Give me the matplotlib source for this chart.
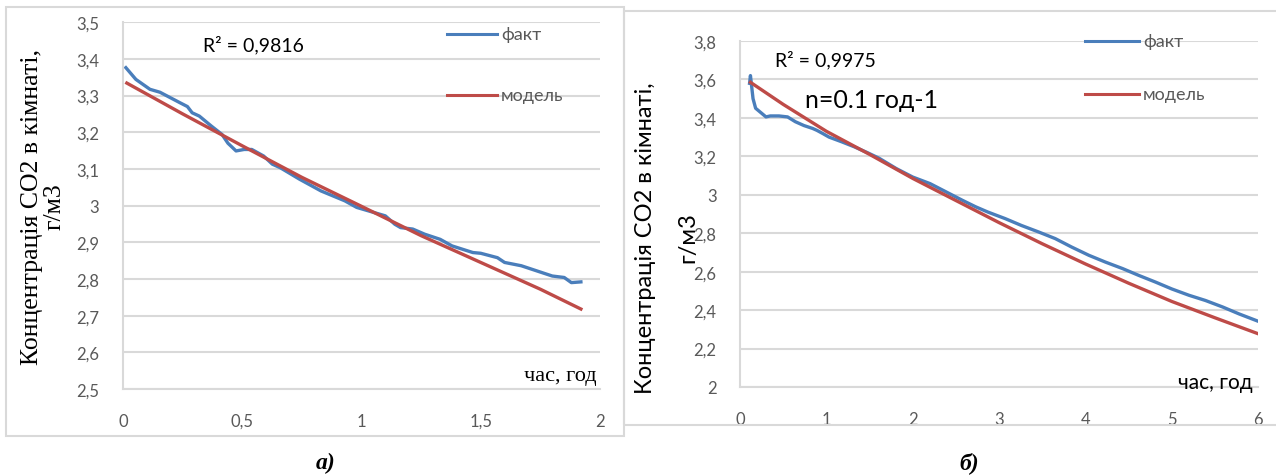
import matplotlib
matplotlib.use('Agg')
import matplotlib.pyplot as plt
from matplotlib.lines import Line2D
from matplotlib.patches import Rectangle
from matplotlib.ticker import FuncFormatter

# --- panel a) data ---
a_fact_x = [0.012, 0.054, 0.113, 0.155, 0.24, 0.27, 0.29, 0.32, 0.37, 0.415, 0.44, 0.474,
            0.508, 0.54, 0.59, 0.626, 0.66, 0.74, 0.83, 0.93, 0.98, 1.1, 1.14, 1.164,
            1.215, 1.265, 1.33, 1.38, 1.467, 1.5, 1.57, 1.6, 1.67, 1.735, 1.8, 1.85,
            1.88, 1.92]
a_fact_y = [3.376, 3.344, 3.317, 3.309, 3.28, 3.27, 3.253, 3.244, 3.217, 3.194, 3.17, 3.149,
            3.153, 3.153, 3.135, 3.113, 3.103, 3.072, 3.04, 3.013, 2.995, 2.972, 2.949, 2.94,
            2.936, 2.922, 2.908, 2.89, 2.872, 2.87, 2.858, 2.845, 2.836, 2.822, 2.808, 2.804,
            2.79, 2.792]
a_model_x = [0.016, 0.25, 0.5, 0.75, 1.0, 1.25, 1.5, 1.75, 1.92]
a_model_y = [3.334, 3.25, 3.163, 3.077, 2.998, 2.918, 2.845, 2.772, 2.718]

# --- panel б) data ---
b_fact_x = [0.11, 0.12, 0.15, 0.18, 0.26, 0.3, 0.35, 0.45, 0.55, 0.64, 0.74, 0.84, 0.89,
            0.96, 1.03, 1.18, 1.32, 1.47, 1.61, 1.81, 2.0, 2.2, 2.39, 2.58, 2.73, 2.87,
            3.07, 3.26, 3.46, 3.65, 3.84, 4.04, 4.23, 4.43, 4.62, 4.81, 5.0, 5.2, 5.39,
            5.59, 5.78, 6.0]
b_fact_y = [3.58, 3.62, 3.5, 3.45, 3.42, 3.405, 3.41, 3.41, 3.405, 3.38, 3.36, 3.345, 3.335,
            3.318, 3.30, 3.275, 3.25, 3.22, 3.19, 3.136, 3.092, 3.058, 3.014, 2.97, 2.937, 2.91,
            2.876, 2.84, 2.806, 2.772, 2.728, 2.685, 2.65, 2.616, 2.58, 2.546, 2.51, 2.477, 2.45,
            2.416, 2.38, 2.342]
b_model_x = [0.12, 0.5, 1.0, 1.5, 2.0, 2.5, 3.0, 3.5, 4.0, 4.5, 5.0, 5.5, 6.0]
b_model_y = [3.585, 3.47, 3.33, 3.21, 3.085, 2.97, 2.855, 2.745, 2.64, 2.54, 2.445, 2.36, 2.277]

BLUE = '#4a7ebb'
RED = '#be4b48'
GRID = '#d9d9d9'
TICK = '#595959'
SANS = ['Lato', 'DejaVu Sans']
SERIF = ['Liberation Serif', 'DejaVu Serif']


def comma(v, pos):
    s = ('%.1f' % v).rstrip('0').rstrip('.')
    return s.replace('.', ',')


def style_axes(ax, xlim, ylim, xticks, yticks):
    ax.set_xlim(*xlim)
    ax.set_ylim(*ylim)
    ax.set_xticks(xticks)
    ax.set_yticks(yticks)
    ax.xaxis.set_major_formatter(FuncFormatter(comma))
    ax.yaxis.set_major_formatter(FuncFormatter(comma))
    ax.grid(axis='y', color=GRID, lw=1.5)
    ax.set_axisbelow(True)
    for s in ['top', 'right']:
        ax.spines[s].set_visible(False)
    for s in ['left', 'bottom']:
        ax.spines[s].set_color(GRID)
        ax.spines[s].set_linewidth(1.5)
    ax.tick_params(length=0, pad=17, labelcolor=TICK, labelsize=12)
    for lab in ax.get_xticklabels() + ax.get_yticklabels():
        lab.set_family(SANS)


def legend_entry(ax, x0, x1, y, color, text, tx):
    ax.add_line(Line2D([x0, x1], [y, y], transform=ax.transAxes, color=color,
                       lw=2.2, clip_on=False))
    ax.text(tx, y, text, transform=ax.transAxes, ha='left', va='center',
            fontsize=13, color=TICK, family=SANS)


fig = plt.figure(figsize=(12.76, 4.77), dpi=100)

# outer frames
fig.patches.append(Rectangle((0.0047, 0.084), 0.4843, 0.899, transform=fig.transFigure,
                             fill=False, edgecolor=GRID, lw=1.5))
fig.patches.append(Rectangle((0.489, 0.107), 0.52, 0.868, transform=fig.transFigure,
                             fill=False, edgecolor=GRID, lw=1.5))

# panel a)
ax1 = fig.add_axes([0.0964, 0.1824, 0.3738, 0.769])
style_axes(ax1, (0, 2), (2.5, 3.5), [0, 0.5, 1, 1.5, 2], [2.5 + 0.1 * i for i in range(11)])
ax1.plot(a_fact_x, a_fact_y, color=BLUE, lw=2.4)
ax1.plot(a_model_x, a_model_y, color=RED, lw=2.4)
ax1.text(0.168, 0.94, 'R² = 0,9816', transform=ax1.transAxes, fontsize=14,
         family=SANS, va='center')
legend_entry(ax1, 0.679, 0.784, 0.967, BLUE, 'факт', 0.792)
legend_entry(ax1, 0.679, 0.784, 0.801, RED, 'модель', 0.792)
ax1.text(0.994, 0.038, 'час, год', transform=ax1.transAxes, ha='right', va='center',
         fontsize=16, family=SERIF)
ax1.set_ylabel('Концентрація СО2 в кімнаті,\nг/м3', family=SERIF, fontsize=18.5,
               labelpad=8, linespacing=1.0)

# panel б)
ax2 = fig.add_axes([0.58, 0.1866, 0.406, 0.7254])
style_axes(ax2, (0, 6), (2, 3.8), list(range(7)), [2 + 0.2 * i for i in range(10)])
ax2.plot(b_fact_x, b_fact_y, color=BLUE, lw=2.4)
ax2.plot(b_model_x, b_model_y, color=RED, lw=2.4)
ax2.text(0.068, 0.948, 'R² = 0,9975', transform=ax2.transAxes, fontsize=14,
         family=SANS, va='center')
ax2.text(0.125, 0.832, 'n=0.1 год-1', transform=ax2.transAxes, fontsize=18,
         family=SANS, va='center')
legend_entry(ax2, 0.666, 0.770, 1.0, BLUE, 'факт', 0.778)
legend_entry(ax2, 0.666, 0.770, 0.847, RED, 'модель', 0.778)
ax2.text(0.99, 0.014, 'час, год', transform=ax2.transAxes, ha='right', va='center',
         fontsize=15, family=SANS)
fig.text(0.5055, 0.5, 'Концентрація СО2 в кімнаті,', rotation=90,
         ha='center', va='center', fontsize=17, family=SANS)
fig.text(0.539, 0.503, 'г/м3', rotation=90,
         ha='center', va='center', fontsize=17, family=SANS)

# captions
fig.text(0.2555, 0.029, 'а)', ha='center', va='center', fontsize=17, family=SERIF,
         weight='bold', style='italic')
fig.text(0.7594, 0.029, 'б)', ha='center', va='center', fontsize=17, family=SERIF,
         weight='bold', style='italic')

fig.savefig('out.png', dpi=100)
